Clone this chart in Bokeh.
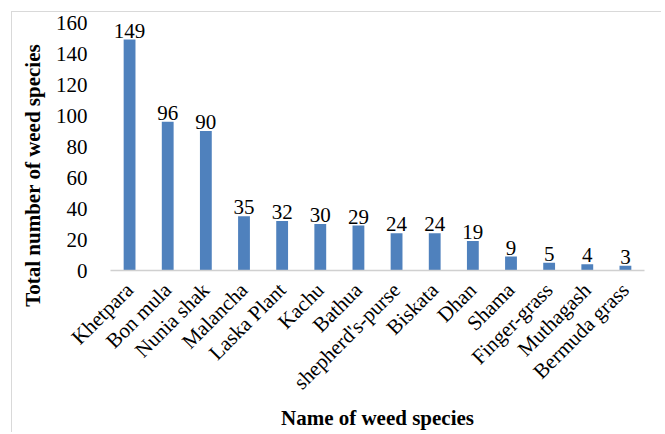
import math
from bokeh.plotting import figure
from bokeh.models import ColumnDataSource, FactorRange, Range1d, FixedTicker, LabelSet
from bokeh.embed import file_html
from bokeh.resources import INLINE

categories = ["Khetpara", "Bon mula", "Nunia shak", "Malancha", "Laska Plant", "Kachu",
              "Bathua", "shepherd's-purse", "Biskata", "Dhan", "Shama", "Finger-grass",
              "Muthagash", "Bermuda grass"]
counts = [149, 96, 90, 35, 32, 30, 29, 24, 24, 19, 9, 5, 4, 3]
y_ticks = [0, 20, 40, 60, 80, 100, 120, 140, 160]

FONT = "Liberation Serif"

src = ColumnDataSource(dict(cat=categories, val=counts, lab=[str(v) for v in counts]))

p = figure(width=650, height=421, output_backend="svg", toolbar_location=None,
           x_range=FactorRange(*categories), y_range=Range1d(0, 160),
           min_border_left=98, min_border_right=18, min_border_top=10, min_border_bottom=163)
p.styles = {"margin-left": "11px", "margin-top": "11px",
            "border-top": "1px solid #d9d9d9", "border-left": "1px solid #d9d9d9"}
p.outline_line_color = None
p.grid.visible = False

p.vbar(x="cat", top="val", width=0.31, source=src, fill_color="#4f81bd", line_color=None)

labels = LabelSet(x="cat", y="val", text="lab", source=src, text_align="center",
                  text_baseline="bottom", y_offset=2, text_font=FONT, text_font_size="21px",
                  text_color="#000000")
p.add_layout(labels)

p.yaxis.ticker = FixedTicker(ticks=y_ticks)
p.yaxis.axis_line_color = None
p.yaxis.major_tick_line_color = None
p.yaxis.minor_tick_line_color = None
p.yaxis.major_label_standoff = 17
p.yaxis.major_label_text_font = FONT
p.yaxis.major_label_text_font_size = "21px"
p.yaxis.major_label_text_color = "#000000"
# trailing no-break spaces shift the centred title down along the axis
p.yaxis.axis_label = "Total number of weed species" + "\u00a0" * 11
p.yaxis.axis_label_text_font = FONT
p.yaxis.axis_label_text_font_style = "bold"
p.yaxis.axis_label_text_font_size = "21px"
p.yaxis.axis_label_text_color = "#000000"
p.yaxis.axis_label_standoff = 8

p.xaxis.axis_line_color = "#d0d0d0"
p.xaxis.axis_line_width = 1.5
p.xaxis.major_tick_line_color = None
p.xaxis.minor_tick_line_color = None
p.xaxis.major_label_orientation = math.pi / 4
p.xaxis.major_label_standoff = 10
p.xaxis.major_label_text_font = FONT
p.xaxis.major_label_text_font_size = "21px"
p.xaxis.major_label_text_color = "#000000"
p.xaxis.axis_label = "Name of weed species"
p.xaxis.axis_label_text_font = FONT
p.xaxis.axis_label_text_font_style = "bold"
p.xaxis.axis_label_text_font_size = "21px"
p.xaxis.axis_label_text_color = "#000000"
p.xaxis.axis_label_standoff = 0

open("out.html", "w").write(file_html(p, INLINE))
